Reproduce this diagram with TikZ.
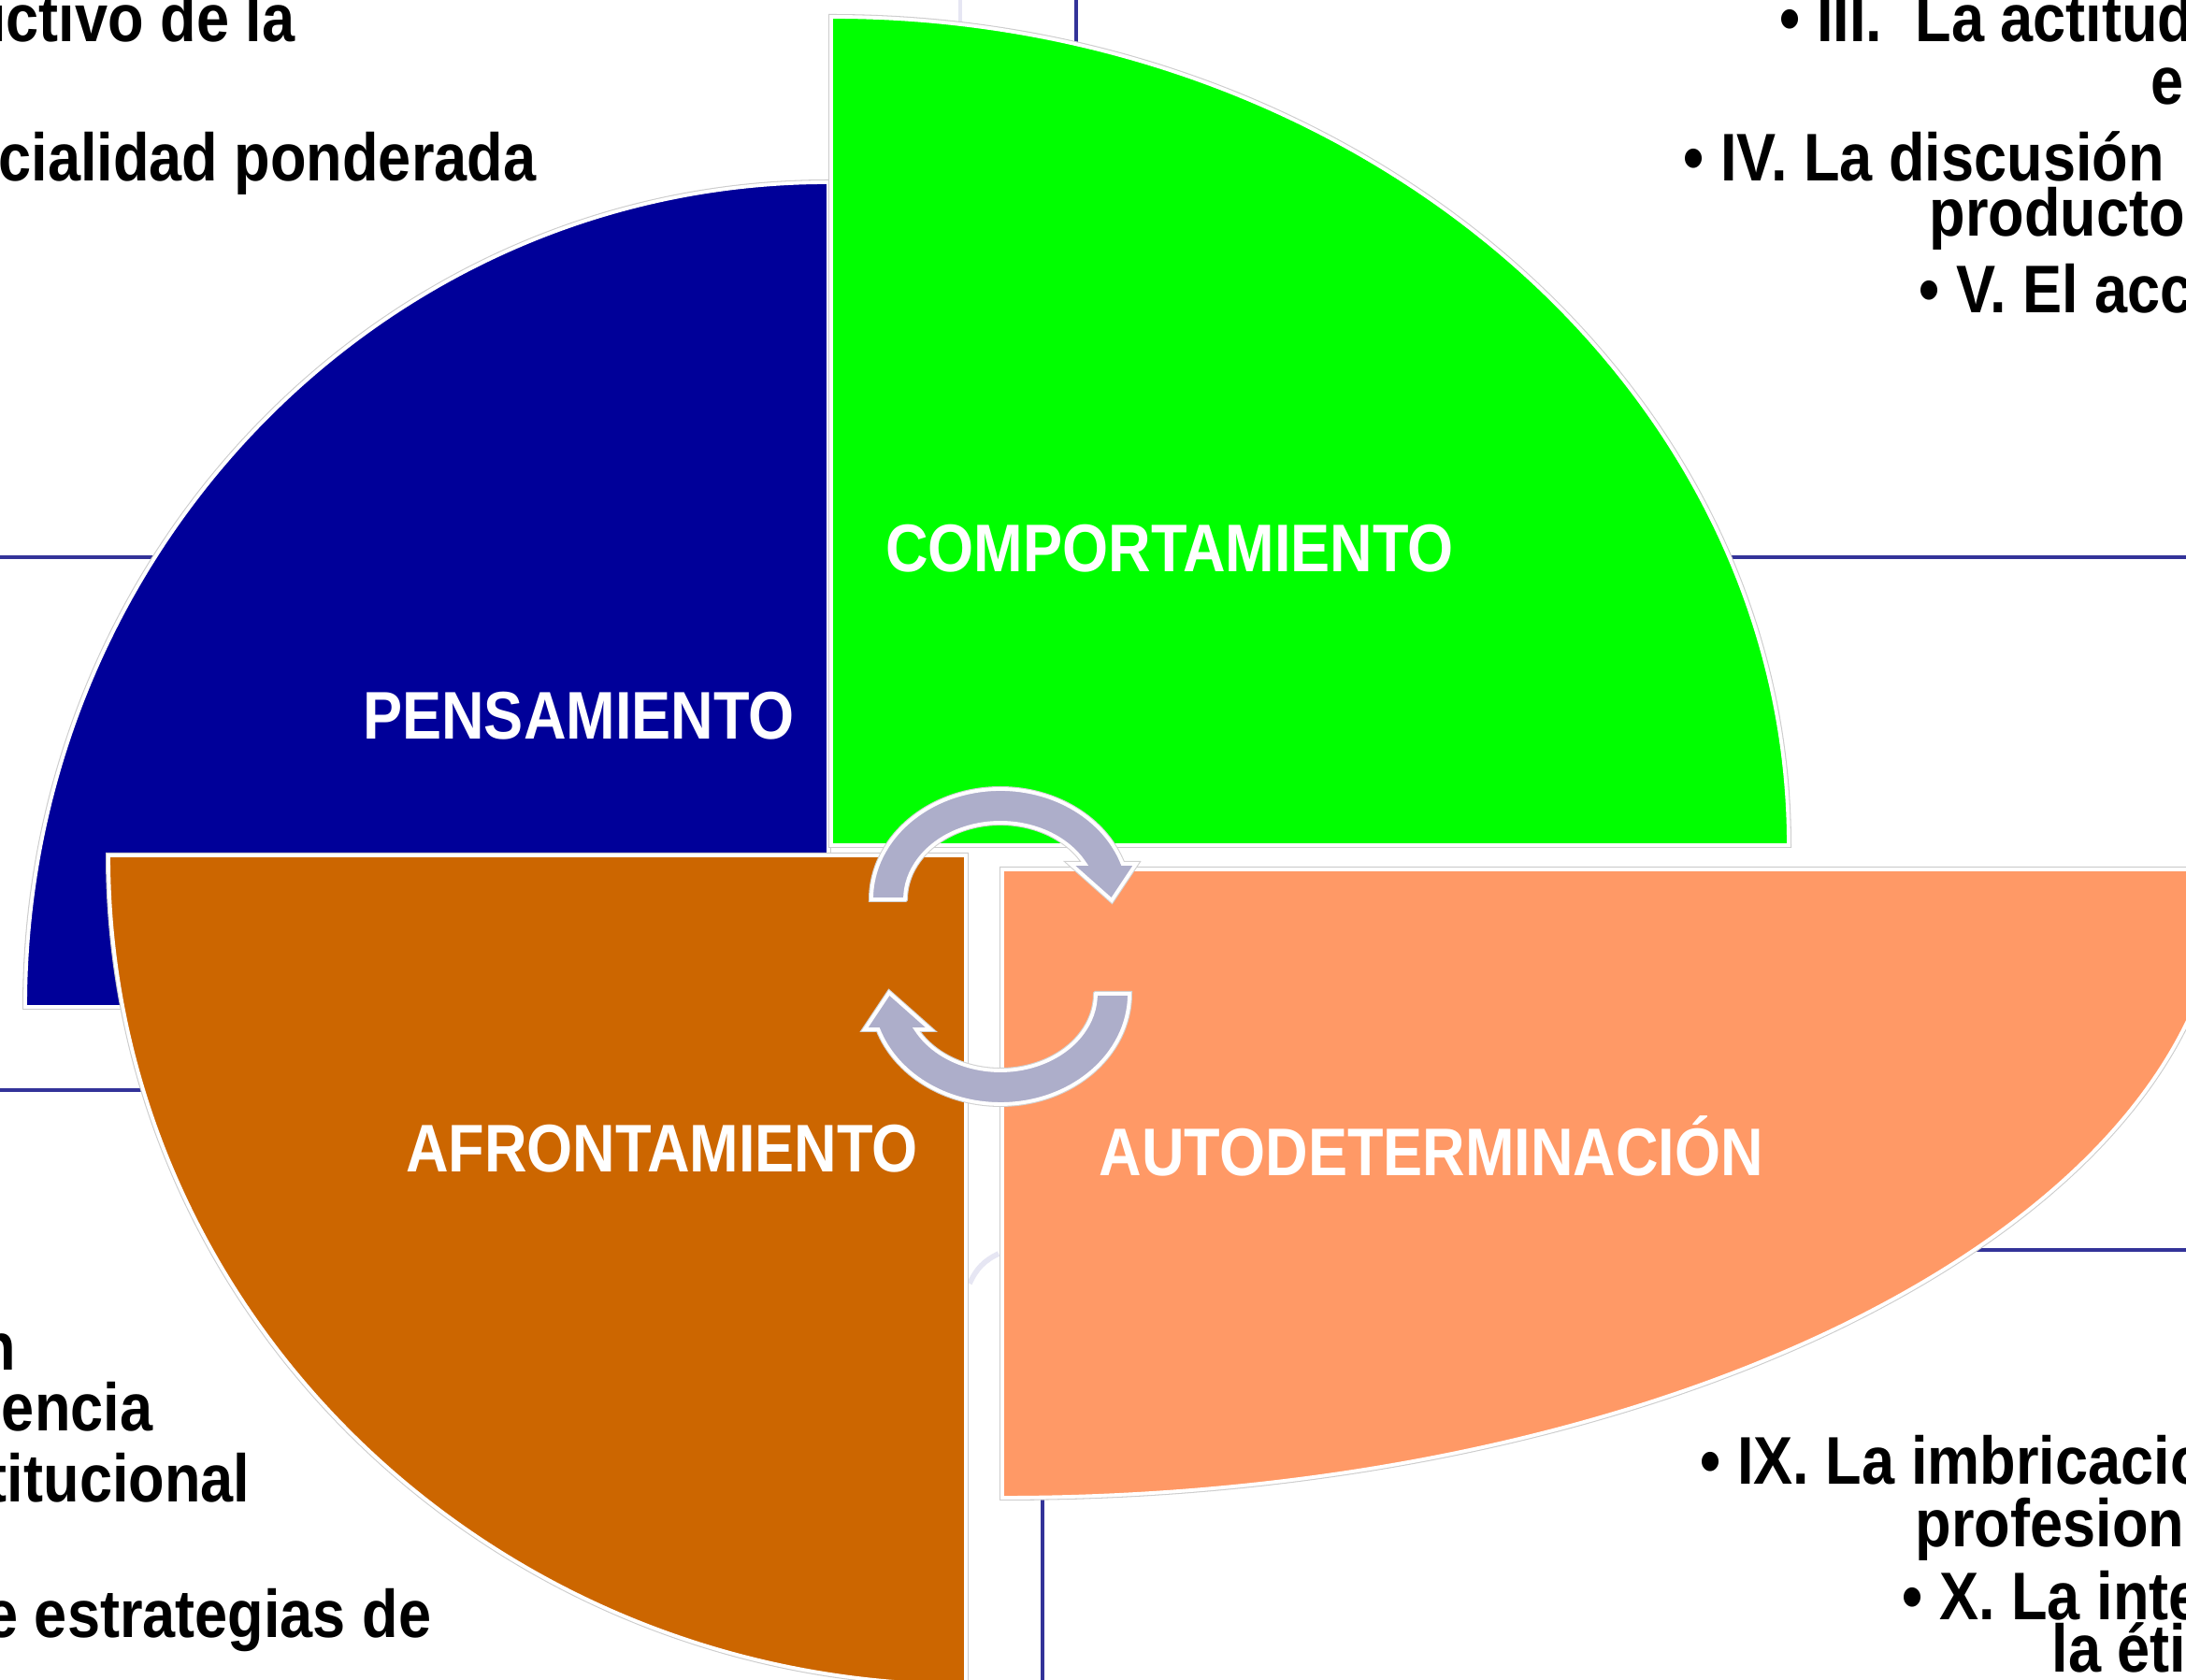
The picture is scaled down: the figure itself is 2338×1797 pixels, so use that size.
\documentclass[tikz,border=0pt]{standalone}
\usepackage{fontspec}
\newfontfamily\narrowbf[FakeStretch=0.875]{Liberation Sans Bold}

\definecolor{pensblue}{HTML}{000099}
\definecolor{compgreen}{HTML}{00FF00}
\definecolor{afroorange}{HTML}{CC6600}
\definecolor{autosalmon}{HTML}{FF9966}
\definecolor{cyclelav}{HTML}{ADAECA}
\definecolor{rulenavy}{HTML}{333399}
\definecolor{faintlav}{HTML}{E6E6F3}

\begin{document}
\begin{tikzpicture}[x=0.01cm, y=0.01cm,
    quad/.style={fill=#1, draw=white, line width=1.1pt, preaction={draw=black!20, line width=1.7pt}},
    cyc/.style={fill=cyclelav, draw=white, line width=1.1pt, preaction={draw=black!18, line width=1.7pt}},
    rule/.style={draw=rulenavy, line width=1.4pt},
    faint/.style={draw=faintlav, line width=1.3pt},
    lbl/.style={text=white, font=\narrowbf\fontsize{20.5}{24}\selectfont, inner sep=0pt, anchor=base},
    side/.style={text=black, font=\narrowbf\fontsize{20.5}{24}\selectfont, inner sep=0pt}]

    \useasboundingbox (0,0) rectangle (2338,1797);
    \clip (0,0) rectangle (2338,1797);
    \fill[white] (0,0) rectangle (2338,1797);

    % frame lines behind the quadrants
    \draw[rule] (0,1201) -- (2338,1201);
    \draw[rule] (1151,1797) -- (1151,1690);
    \draw[rule] (0,631) -- (1000,631);
    \draw[rule] (1100,460) -- (2338,460);
    \draw[rule] (1115,400) -- (1115,0);
    \draw[faint] (1027,1797) -- (1027,1760);
    \draw[faint, line width=1.6pt] (1037,424) to[bend left=20] (1068,456);

    % Pensamiento
    \path[quad=pensblue] (886,720) -- (886,1602)
        arc[start angle=90, end angle=180, x radius=859, y radius=882] -- cycle;

    % Comportamiento
    \path[quad=compgreen] (889,893) -- (1913,893)
        arc[start angle=0, end angle=90, x radius=1024, y radius=886] -- cycle;

    % Afrontamiento
    \path[quad=afroorange] (1033,882) -- (116,882)
        arc[start angle=180, end angle=270, x radius=917, y radius=887] -- cycle;

    % Autodeterminacion
    \path[quad=autosalmon] (1072,867) -- (2378,867)
        arc[start angle=0, end angle=-90, x radius=1306, y radius=672] -- cycle;

    % cycle arrows
    \foreach \turn in {0,180} {
        \path[cyc, rotate around={\turn:(1070,784.5)}] (968,835) -- (932,835)
            arc[start angle=180, end angle=18.8, x radius=138, y radius=118]
            -- (1215,873) -- (1189,834) -- (1145,873) -- (1160.4,873)
            arc[start angle=27.6, end angle=180, x radius=102, y radius=82] -- cycle;
    }

    % quadrant labels
    \node[lbl] (comp) at (1251,1185) {COMPORTAMIENTO};
    \node[lbl] (pens) at (619,1006) {PENSAMIENTO};
    \node[lbl] (afro) at (708,543) {AFRONTAMIENTO};
    \node[lbl] (auto) at (1531,539) {AUTODETERMINACIÓN};

    % top left text
    \node[side, anchor=base east] (tl1) at (316,1752) {ictivo de la};
    \node[side, anchor=base east] (tl2) at (574,1603) {cialidad ponderada};

    % top right text
    \node[side, anchor=base west] (tr1) at (1903,1752) {•\ III.\ \ La actitud};
    \node[side, anchor=base west] (tr2) at (2300,1685) {e};
    \node[side, anchor=base west] (tr3) at (1800,1603) {•\ IV. La discusión};
    \node[side, anchor=base west] (tr4) at (2063,1544) {producto};
    \node[side, anchor=base west] (tr5) at (2052,1462) {•\ V. El acc};

    % bottom left text
    \node[side, anchor=base east] (bl1) at (18,331) {n};
    \node[side, anchor=base east] (bl2) at (164,266) {encia};
    \node[side, anchor=base east] (bl3) at (268,190) {titucional};
    \node[side, anchor=base east] (bl4) at (462,45) {e estrategias de};

    % bottom right text
    \node[side, anchor=base west] (br1) at (1818,209) {•\ IX. La imbricacio};
    \node[side, anchor=base west] (br2) at (2048,142) {profesion};
    \node[side, anchor=base west] (br3) at (2034,64) {•\ X. La inte};
    \node[side, anchor=base west] (br4) at (2194,8) {la éti};
\end{tikzpicture}
\end{document}
